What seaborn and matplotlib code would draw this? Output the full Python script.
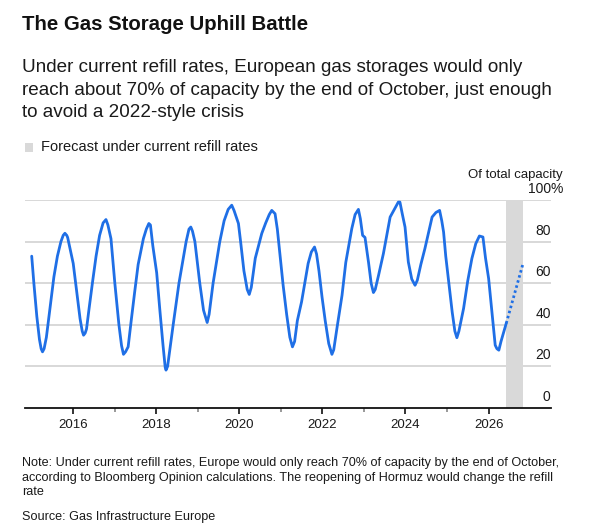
import pandas as pd
import numpy as np
import matplotlib
matplotlib.use('Agg')
import matplotlib.pyplot as plt
import matplotlib.transforms as mtransforms
from matplotlib.patches import Rectangle
import seaborn as sns

# EU gas storage, % of total capacity
dates = ['2015-01-01', '2015-01-20', '2015-02-15', '2015-03-10', '2015-03-25', '2015-04-06',
         '2015-04-20', '2015-05-10', '2015-06-15', '2015-07-15', '2015-08-15', '2015-09-15',
         '2015-10-05', '2015-10-20', '2015-11-05', '2015-11-13', '2015-12-10',
         '2016-01-01', '2016-02-01', '2016-03-01', '2016-03-20', '2016-04-01', '2016-04-15',
         '2016-04-27', '2016-05-20', '2016-06-20', '2016-07-20', '2016-08-20', '2016-09-20',
         '2016-10-15', '2016-11-01', '2016-11-28', '2016-12-15',
         '2017-01-01', '2017-02-06', '2017-03-01', '2017-03-18', '2017-04-05', '2017-04-28',
         '2017-05-25', '2017-06-25', '2017-07-25', '2017-09-09', '2017-10-05', '2017-10-27',
         '2017-11-10', '2017-12-01',
         '2018-01-04', '2018-02-01', '2018-03-01', '2018-03-20', '2018-03-27', '2018-04-10',
         '2018-05-29', '2018-07-19', '2018-09-20', '2018-10-15', '2018-10-31', '2018-11-15',
         '2018-12-06',
         '2019-01-18', '2019-02-20', '2019-03-24', '2019-04-10', '2019-05-15', '2019-07-13',
         '2019-08-20', '2019-09-25', '2019-10-26', '2019-11-15', '2019-12-10', '2019-12-24',
         '2020-01-12', '2020-02-10', '2020-03-10', '2020-03-28', '2020-04-15', '2020-05-20',
         '2020-07-16', '2020-08-20', '2020-09-20', '2020-10-12', '2020-11-10', '2020-11-30',
         '2020-12-24',
         '2021-01-20', '2021-02-20', '2021-03-20', '2021-04-12', '2021-05-01', '2021-05-25',
         '2021-07-01', '2021-08-28', '2021-09-25', '2021-10-23', '2021-11-10', '2021-12-01',
         '2021-12-28',
         '2022-01-25', '2022-02-25', '2022-03-25', '2022-04-10', '2022-05-10', '2022-06-22',
         '2022-07-25', '2022-09-16', '2022-10-15', '2022-11-13', '2022-11-30', '2022-12-20',
         '2023-01-10', '2023-02-10', '2023-03-05', '2023-03-25', '2023-04-10', '2023-05-10',
         '2023-06-21', '2023-08-19', '2023-09-20', '2023-10-30', '2023-11-13', '2023-12-05',
         '2023-12-28',
         '2024-01-26', '2024-02-25', '2024-03-25', '2024-04-14', '2024-05-15', '2024-06-20',
         '2024-08-22', '2024-09-25', '2024-10-27', '2024-11-15', '2024-12-01', '2024-12-20',
         '2025-01-15', '2025-02-15', '2025-03-10', '2025-03-28', '2025-04-15', '2025-05-26',
         '2025-07-01', '2025-08-07', '2025-09-10', '2025-10-12', '2025-11-12', '2025-12-05',
         '2026-01-01', '2026-02-01', '2026-02-28', '2026-03-15', '2026-04-01', '2026-04-20',
         '2026-06-05']
storage = [73, 60, 44, 33, 28.5, 27,
           28.5, 34, 50, 63, 73, 80,
           83, 84, 83, 82, 75,
           69.5, 56, 43, 37, 35, 36,
           38, 48, 61, 73, 83, 89,
           90.6, 88, 81.4, 71,
           60, 40, 30, 25.8, 27, 29.4,
           42, 56, 69, 81.4, 86, 88.7,
           88, 78,
           65, 47, 30, 19.5, 18.2, 20,
           40, 60, 80, 86, 87, 85,
           80,
           60, 47, 41.1, 45, 60, 80,
           90, 95.5, 97.5, 95, 91, 88.7,
           80, 66, 57, 54.6, 58, 72,
           83.9, 89, 93, 95, 93.4, 86,
           73.4,
           59, 45, 34, 29.4, 32, 42,
           51, 69.5, 75, 77.4, 74, 66,
           53.4,
           42, 31, 25.8, 28, 39, 54.2,
           70, 86.3, 93, 95.5, 91, 83,
           82, 70, 60, 55.5, 57, 64,
           74.3, 91.8, 95, 99, 99, 93,
           87,
           70.2, 62, 59, 61.4, 69, 76.7,
           91.8, 94, 95, 90, 84.6, 73,
           60.6, 46, 37, 33.8, 37, 47.9,
           61, 71.9, 79, 82.7, 82.2, 72,
           62.3, 45, 30.2, 28.5, 27.8, 32,
           40.7]

# forecast under current refill rates
forecast_dates = ['2026-06-05', '2026-10-31']
forecast_values = [40.7, 69.5]

y_ticks = [0, 20, 40, 60, 80, 100]
x_tick_years = [2016, 2018, 2020, 2022, 2024, 2026]

df = pd.DataFrame({'date': pd.to_datetime(dates), 'storage': storage})
fc = pd.DataFrame({'date': pd.to_datetime(forecast_dates), 'storage': forecast_values})

sns.set_style('white')
plt.rcParams['font.family'] = ['Liberation Sans', 'DejaVu Sans']

blue = '#1f6fe6'
shade = '#d9d9d9'
grid_col = '#d6d6d6'
txt = '#1a1a1a'

fig = plt.figure(figsize=(6.07, 5.29), dpi=100)
ax = fig.add_axes([25 / 607, (529 - 408) / 529, (550.7 - 25) / 607, 208 / 529])

ax.axvspan(pd.Timestamp(forecast_dates[0]), pd.Timestamp(forecast_dates[1]), color=shade, lw=0, zorder=1)
for v in y_ticks[1:]:
    ax.axhline(v, color=grid_col, lw=1.3, zorder=0)

sns.lineplot(data=df, x='date', y='storage', ax=ax, color=blue, lw=2.0, zorder=3)
sns.lineplot(data=fc, x='date', y='storage', ax=ax, color=blue, lw=2.0, ls=(0, (0.9, 1.0)), zorder=3)

ax.set_xlim(pd.Timestamp('2014-11-03'), pd.Timestamp('2027-07-01'))
ax.set_ylim(0, 100)
ax.set_xlabel('')
ax.set_ylabel('')
ax.set_yticks([])
for s in ['top', 'left', 'right']:
    ax.spines[s].set_visible(False)
ax.spines['bottom'].set_color('#111111')
ax.spines['bottom'].set_linewidth(1.3)

ax.set_xticks([pd.Timestamp(f'{y}-01-01') for y in x_tick_years])
ax.set_xticklabels([str(y) for y in x_tick_years])
ax.set_xticks([pd.Timestamp(f'{y + 1}-01-01') for y in x_tick_years[:-1]], minor=True)
ax.tick_params(axis='x', which='major', direction='out', length=4, width=1.2, color='#111111',
               labelsize=9.5, labelcolor=txt, pad=4, bottom=True)
ax.tick_params(axis='x', which='minor', direction='out', length=3, width=1.2, color='#888888', bottom=True)

# y labels sit above the gridlines at the right end
lab_tr = mtransforms.blended_transform_factory(ax.transAxes, ax.transData)
off = mtransforms.offset_copy(lab_tr, fig=fig, x=0, y=4, units='dots')
for v in y_ticks:
    ax.text(1.0, v, str(v), transform=off, ha='right', va='bottom', fontsize=10, color=txt)
ax.text(1.0, 100, '%', transform=off, ha='left', va='bottom', fontsize=10, color=txt)
ax.text(1.0 + 12 / 525.7, 100, 'Of total capacity',
        transform=mtransforms.offset_copy(lab_tr, fig=fig, x=0, y=19, units='dots'),
        ha='right', va='bottom', fontsize=9.5, color=txt)

fig.text(22 / 607, 1 - 24 / 529, 'The Gas Storage Uphill Battle', fontsize=14.7, fontweight='bold',
         color='#111111', va='center', ha='left')
fig.text(22 / 607, 1 - 59 / 529,
         'Under current refill rates, European gas storages would only\n'
         'reach about 70% of capacity by the end of October, just enough\n'
         'to avoid a 2022-style crisis',
         fontsize=13.6, color=txt, va='top', ha='left', linespacing=1.43)

fig.patches.append(Rectangle((25 / 607, 1 - 151.5 / 529), 8 / 607, 8 / 529, transform=fig.transFigure,
                             color=shade, lw=0))
fig.text(41 / 607, 1 - 147 / 529, 'Forecast under current refill rates', fontsize=10.5, color=txt,
         va='center', ha='left')

fig.text(22 / 607, 1 - 457 / 529,
         'Note: Under current refill rates, Europe would only reach 70% of capacity by the end of October,\n'
         'according to Bloomberg Opinion calculations. The reopening of Hormuz would change the refill\n'
         'rate',
         fontsize=9.1, color=txt, va='top', ha='left', linespacing=1.28)
fig.text(22 / 607, 1 - 517 / 529, 'Source: Gas Infrastructure Europe', fontsize=9.1, color=txt,
         va='center', ha='left')

fig.savefig('out.png', dpi=100)
